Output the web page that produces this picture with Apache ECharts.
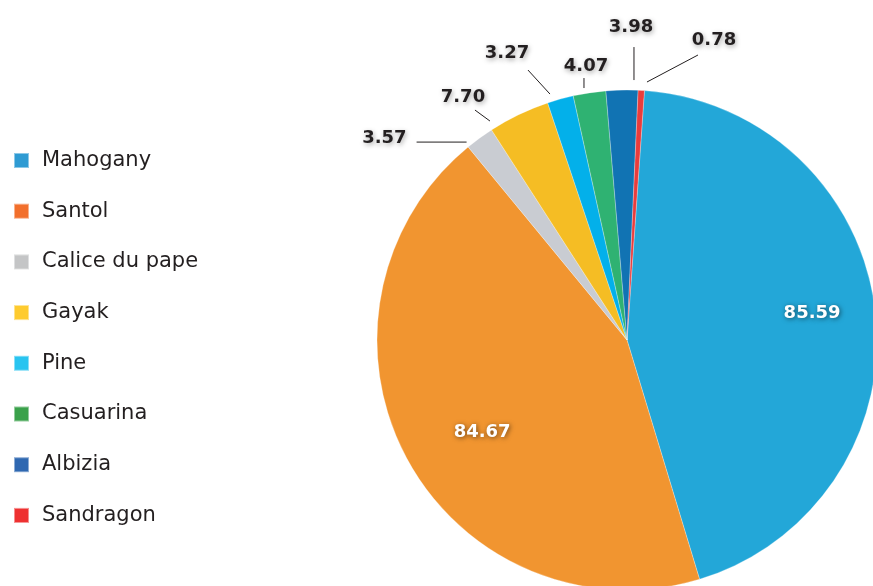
<!DOCTYPE html>
<html>
<head>
<meta charset="utf-8">
<script src="https://cdn.jsdelivr.net/npm/echarts@6/dist/echarts.min.js"></script>
<style>
html,body{margin:0;padding:0;background:#fff;}
#c{width:873px;height:586px;}
</style>
</head>
<body>
<div id="c"></div>
<script>
const categories = ['Mahogany', 'Santol', 'Calice du pape', 'Gayak', 'Pine', 'Casuarina', 'Albizia', 'Sandragon'];
const values = [85.59, 84.67, 3.57, 7.70, 3.27, 4.07, 3.98, 0.78];
const valueLabels = ['85.59', '84.67', '3.57', '7.70', '3.27', '4.07', '3.98', '0.78'];
const sliceColors = ['#23a7d8', '#f19530', '#c9ccd2', '#f5bd24', '#03b0ea', '#2fb272', '#1173b3', '#e93c3c'];
const legendColors = ['#2f9bd3', '#f26f2c', '#c4c5c6', '#fecb2f', '#29c4f0', '#3aa14b', '#2f68b1', '#ee3131'];

// geometry / style settings
const CX = 627, CY = 340, R = 250, START = 86;
const insideIdx = [0, 1];
// offsets relative to the outer edge point at each slice's mid-angle
const outsidePlacement = {
  2: { s: [-13, 4], e: [-63, 4], l: [-73, 0], align: 'right' },
  3: { s: [-28.8, 6.4], e: [-43.8, -4.6], l: [-55.8, -17.6], align: 'center' },
  4: { s: [-10.4, -5], e: [-32.4, -29], l: [-53.4, -46], align: 'center' },
  5: { s: [-5.5, -4.8], e: [-5.5, -14.8], l: [-3.5, -26.8], align: 'center' },
  6: { s: [12, -10], e: [12, -43], l: [9, -63], align: 'center' },
  7: { s: [5.7, -8.4], e: [56.7, -35.4], l: [72.7, -50.4], align: 'center' }
};
const insidePlacement = { 0: { k: 0.745, d: [0, -6] }, 1: { k: 0.68, d: [5, 12] } };

const total = values.reduce((a, b) => a + b, 0);
function midAngle(i) {
  let cum = 0;
  for (let j = 0; j < i; j++) cum += values[j];
  const deg = (90 - START) + (cum + values[i] / 2) / total * 360;
  return deg * Math.PI / 180;
}

const chart = echarts.init(document.getElementById('c'), null, { renderer: 'canvas' });

const data = categories.map((name, i) => {
  const inside = insideIdx.indexOf(i) >= 0;
  return {
    name: name,
    value: values[i],
    itemStyle: { color: sliceColors[i] },
    label: inside ? {
      position: 'inside',
      color: '#ffffff',
      textShadowColor: 'rgba(0,0,0,0.55)',
      textShadowBlur: 5,
      textShadowOffsetX: 1,
      textShadowOffsetY: 1
    } : {
      position: 'outside',
      color: '#231f20',
      textShadowColor: 'rgba(0,0,0,0.35)',
      textShadowBlur: 5,
      textShadowOffsetX: 1,
      textShadowOffsetY: 2
    },
    labelLine: { show: !inside }
  };
});

chart.setOption({
  animation: false,
  backgroundColor: '#ffffff',
  legend: {
    orient: 'vertical',
    left: 13,
    top: 150,
    padding: 0,
    itemWidth: 15,
    itemHeight: 15,
    itemGap: 29.7,
    icon: 'rect',
    selectedMode: false,
    textStyle: {
      fontFamily: 'DejaVu Sans',
      fontSize: 21,
      lineHeight: 21,
      color: '#231f20',
      padding: [0, 0, 0, 8]
    },
    data: categories.map((n, i) => ({ name: n, itemStyle: { color: legendColors[i] } }))
  },
  series: [{
    type: 'pie',
    center: [CX, CY],
    radius: R,
    startAngle: START,
    clockwise: true,
    avoidLabelOverlap: false,
    itemStyle: { borderColor: 'rgba(255,255,255,0.45)', borderWidth: 0.6 },
    label: {
      show: true,
      fontFamily: 'DejaVu Sans',
      fontWeight: 'bold',
      fontSize: 18,
      formatter: p => valueLabels[p.dataIndex]
    },
    labelLine: {
      show: true,
      lineStyle: { color: '#231f20', width: 1 }
    },
    labelLayout: function (params) {
      const i = params.dataIndex;
      const a = midAngle(i);
      const sx = Math.sin(a), cy = -Math.cos(a);
      if (insidePlacement[i]) {
        const p = insidePlacement[i];
        return {
          x: CX + sx * R * p.k + p.d[0],
          y: CY + cy * R * p.k + p.d[1],
          align: 'center',
          verticalAlign: 'middle'
        };
      }
      const p = outsidePlacement[i];
      const ex = CX + sx * R, ey = CY + cy * R;
      const s = [ex + p.s[0], ey + p.s[1]];
      const e = [ex + p.e[0], ey + p.e[1]];
      return {
        x: ex + p.l[0],
        y: ey + p.l[1],
        align: p.align,
        verticalAlign: 'middle',
        labelLinePoints: [s, e, e]
      };
    },
    data: data
  }]
});
</script>
</body>
</html>
